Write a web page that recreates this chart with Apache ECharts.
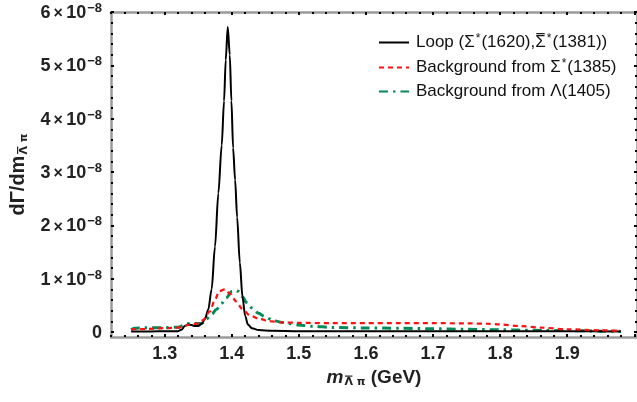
<!DOCTYPE html>
<html>
<head>
<meta charset="utf-8">
<script src="https://cdn.jsdelivr.net/npm/echarts@6/dist/echarts.min.js"></script>
<style>html,body{margin:0;padding:0;background:#fff}#c{width:637px;height:402px}</style>
</head>
<body>
<div id="c"></div>
<script>
// values in units of 1e-8
var loopX = [1.25,1.26,1.28,1.30,1.32,1.325,1.33,1.335,1.34,1.345,1.35,1.355,1.36,1.365,1.37,1.375,1.38,1.385,1.3885,1.391,1.394,1.397,1.3995,1.402,1.405,1.408,1.412,1.416,1.42,1.424,1.43,1.44,1.46,1.5,1.6,1.7,1.8,1.9,1.98];
var loopY = [0.01,0.01,0.01,0.012,0.015,0.04,0.11,0.14,0.13,0.11,0.11,0.15,0.24,0.42,0.8,1.6,2.6,3.5,4.33,5.1,5.72,5.2,4.33,3.45,2.85,2.15,1.3,0.65,0.3,0.14,0.07,0.035,0.022,0.015,0.012,0.012,0.012,0.012,0.01];

var sigX = [1.25,1.27,1.30,1.32,1.335,1.35,1.357,1.367,1.375,1.381,1.39,1.397,1.407,1.415,1.427,1.442,1.457,1.475,1.5,1.55,1.6,1.65,1.7,1.75,1.78,1.80,1.83,1.86,1.90,1.95,1.98];
var sigY = [0.05,0.055,0.07,0.08,0.13,0.16,0.22,0.38,0.6,0.76,0.8,0.72,0.57,0.44,0.31,0.24,0.2,0.18,0.17,0.165,0.165,0.165,0.165,0.16,0.155,0.14,0.11,0.08,0.05,0.03,0.02];

var lamX = [1.25,1.255,1.27,1.30,1.32,1.33,1.337,1.355,1.362,1.37,1.377,1.385,1.392,1.40,1.405,1.41,1.416,1.422,1.43,1.44,1.45,1.462,1.477,1.5,1.52,1.55,1.6,1.65,1.7,1.75,1.8,1.85,1.9,1.95,1.98];
var lamY = [0.04,0.07,0.08,0.08,0.09,0.13,0.16,0.16,0.24,0.33,0.42,0.54,0.64,0.76,0.78,0.76,0.66,0.55,0.45,0.35,0.28,0.21,0.175,0.13,0.105,0.085,0.075,0.07,0.06,0.05,0.04,0.03,0.025,0.015,0.01];

var xMajor = [1.3,1.4,1.5,1.6,1.7,1.8,1.9,2.0];
var xLabels = ['1.3','1.4','1.5','1.6','1.7','1.8','1.9'];
var yMajor = [0,1,2,3,4,5,6];
var yLabels = ['0','1','2','3','4','5','6'];

var seriesNames = ['Loop', 'BgSigma', 'BgLambda'];
var legendTexts = {
  'Loop': 'Loop (Σ{sup|*}(1620),{bar|Σ}{sup|*}(1381))',
  'BgSigma': 'Background from Σ{sup|*}(1385)',
  'BgLambda': 'Background from Λ(1405)'
};

var X_MIN = 1.22, X_MAX = 2.004, Y_MIN = -0.095, Y_MAX = 6.0;

function zip(a, b) { var r = []; for (var i = 0; i < a.length; i++) r.push([a[i], b[i]]); return r; }
var xMinor = [], yMinor = [];
for (var i = 61; i <= 100; i++) { if (i % 5 !== 0) xMinor.push(i / 50); }
for (var j = 0; j <= 30; j++) { if (j % 5 !== 0) yMinor.push(j / 5); }

var FONT = '"Liberation Sans", Arial, sans-serif';
var DV = '"DejaVu Sans", sans-serif';
var gridBox = { left: 111, top: 12, width: 526, height: 325 };

function xAx(grid, pos, ticks, len, showLine, labels) {
  return {
    type: 'value', gridIndex: grid, position: pos, min: X_MIN, max: X_MAX,
    axisLine: { show: showLine, onZero: false, lineStyle: { color: '#9a9a9a', width: 2.5 } },
    axisTick: { show: true, inside: true, length: len, customValues: ticks, lineStyle: { color: '#000', width: 2 } },
    axisLabel: labels ? {
      show: true, customValues: xMajor.slice(0, 7), margin: 8,
      formatter: function (v) { return xLabels[Math.round(v * 10) - 13]; },
      fontFamily: FONT, fontWeight: 'bold', fontSize: 18, color: '#222'
    } : { show: false },
    splitLine: { show: false }
  };
}
function yAx(grid, pos, ticks, len, showLine, labels) {
  return {
    type: 'value', gridIndex: grid, position: pos, min: Y_MIN, max: Y_MAX,
    axisLine: { show: showLine, onZero: false, lineStyle: { color: '#9a9a9a', width: 2.5 } },
    axisTick: { show: true, inside: true, length: len, customValues: ticks, lineStyle: { color: '#000', width: 2 } },
    axisLabel: labels ? {
      show: true, customValues: yMajor, margin: 9,
      formatter: function (v) {
        var k = Math.round(v);
        if (k === 0) return '{b|0}';
        return '{b|' + yLabels[k] + '}{x|\u2009×\u2009}{b|10}{s|−8}';
      },
      rich: {
        b: { fontFamily: FONT, fontWeight: 'bold', fontSize: 18, color: '#222', verticalAlign: 'bottom', lineHeight: 20 },
        x: { fontFamily: FONT, fontWeight: 'bold', fontSize: 16, color: '#222', verticalAlign: 'bottom', lineHeight: 20 },
        s: { fontFamily: FONT, fontWeight: 'bold', fontSize: 13, color: '#222', verticalAlign: 'top', lineHeight: 20, padding: [0, 0, 8, 1] }
      }
    } : { show: false },
    splitLine: { show: false }
  };
}

var xAxes = [
  xAx(0, 'bottom', xMajor, 3, true, true),
  xAx(0, 'top', xMajor, 3, true, false),
  xAx(1, 'bottom', xMinor, 2, false, false),
  xAx(1, 'top', xMinor, 2, false, false)
];
xAxes[0].name = '{i|m}{subL|Λ}{sub| π}{a| (GeV)}';
xAxes[0].nameLocation = 'middle';
xAxes[0].nameGap = 30;
xAxes[0].nameTextStyle = {
  rich: {
    i: { fontFamily: FONT, fontWeight: 'bold', fontStyle: 'italic', fontSize: 19, color: '#222' },
    subL: { fontFamily: DV, fontWeight: 'bold', fontSize: 11, color: '#222', padding: [10, 0, 0, 1] },
    sub: { fontFamily: DV, fontWeight: 'bold', fontSize: 11, color: '#222', padding: [10, 0, 0, 0] },
    a: { fontFamily: FONT, fontWeight: 'bold', fontSize: 19, color: '#222' }
  }
};
var yAxes = [
  yAx(0, 'left', yMajor, 3, true, true),
  yAx(0, 'right', yMajor, 3, true, false),
  yAx(1, 'left', yMinor, 2, false, false),
  yAx(1, 'right', yMinor, 2, false, false)
];
yAxes[0].name = '{a|dΓ/dm}{subL|Λ}{sub| π}';
yAxes[0].nameLocation = 'middle';
yAxes[0].nameRotate = 90;
yAxes[0].nameGap = 72;
yAxes[0].nameTextStyle = {
  rich: {
    a: { fontFamily: FONT, fontWeight: 'bold', fontSize: 20, color: '#222' },
    subL: { fontFamily: DV, fontWeight: 'bold', fontSize: 11, color: '#222', padding: [11, 0, 0, 1] },
    sub: { fontFamily: DV, fontWeight: 'bold', fontSize: 11, color: '#222', padding: [11, 0, 0, 0] }
  }
};

var chart = echarts.init(document.getElementById('c'), null, { renderer: 'canvas' });
chart.setOption({
  animation: false,
  backgroundColor: '#fff',
  grid: [
    Object.assign({ containLabel: false }, gridBox),
    Object.assign({ containLabel: false }, gridBox)
  ],
  xAxis: xAxes,
  yAxis: yAxes,
  legend: {
    orient: 'vertical', left: 373, top: 28, itemWidth: 30, itemHeight: 14, itemGap: 7,
    data: seriesNames,
    itemStyle: { opacity: 0, borderWidth: 0 },
    formatter: function (n) { return legendTexts[n]; },
    textStyle: {
      fontFamily: FONT, fontSize: 17, color: '#111', padding: [0, 0, 0, 2],
      rich: {
        sup: { fontFamily: FONT, fontSize: 12, color: '#111', verticalAlign: 'top', padding: [0, 1, 7, 1] },
        bar: { fontFamily: FONT, fontSize: 17, color: '#111' }
      }
    }
  },
  series: [
    { name: seriesNames[0], type: 'line', xAxisIndex: 0, yAxisIndex: 0, data: zip(loopX, loopY),
      symbol: 'none', smooth: 0.3, smoothMonotone: 'x', z: 3,
      lineStyle: { color: '#000', width: 2, type: 'solid' }, itemStyle: { color: '#000' } },
    { name: seriesNames[1], type: 'line', xAxisIndex: 0, yAxisIndex: 0, data: zip(sigX, sigY),
      symbol: 'none', smooth: 0.3, smoothMonotone: 'x', z: 4,
      lineStyle: { color: '#ff1010', width: 2.2, type: [5, 4] }, itemStyle: { color: '#ff1010' } },
    { name: seriesNames[2], type: 'line', xAxisIndex: 0, yAxisIndex: 0, data: zip(lamX, lamY),
      symbol: 'none', smooth: 0.3, smoothMonotone: 'x', z: 2,
      lineStyle: { color: '#008a55', width: 3, type: [9, 5, 2.5, 5] }, itemStyle: { color: '#008a55' } }
  ]
});

// Overbars (text decoration) for Σ̄ and Λ̄: found from the rendered text tokens
try {
  var overbars = [];
  var list = chart.getZr().storage.getDisplayList(true);
  list.forEach(function (el) {
    var st = el.style;
    if (!st || typeof st.text !== 'string') return;
    var isSig = st.text === 'Σ';
    var isLam = st.text === 'Λ';
    if (!isSig && !isLam) return;
    var r = el.getBoundingRect();
    var fs = isSig ? 17 : 11;
    var m = el.getComputedTransform ? el.getComputedTransform() : el.transform;
    var mid = r.y + r.height / 2;
    var yb = mid - (isSig ? 0.52 : 0.58) * fs;
    var xa = r.x + (isSig ? 1 : 0.5), xb = r.x + r.width - (isSig ? 1 : 0.5);
    function tp(x, y) {
      if (!m) return [x, y];
      return [m[0] * x + m[2] * y + m[4], m[1] * x + m[3] * y + m[5]];
    }
    var p1 = tp(xa, yb), p2 = tp(xb, yb);
    overbars.push({
      type: 'line', z: 100, silent: true,
      shape: { x1: p1[0], y1: p1[1], x2: p2[0], y2: p2[1] },
      style: { stroke: isSig ? '#111' : '#222', lineWidth: isSig ? 1.2 : 1.2 }
    });
  });
  if (overbars.length) chart.setOption({ graphic: overbars });
} catch (e) {}
</script>
</body>
</html>
